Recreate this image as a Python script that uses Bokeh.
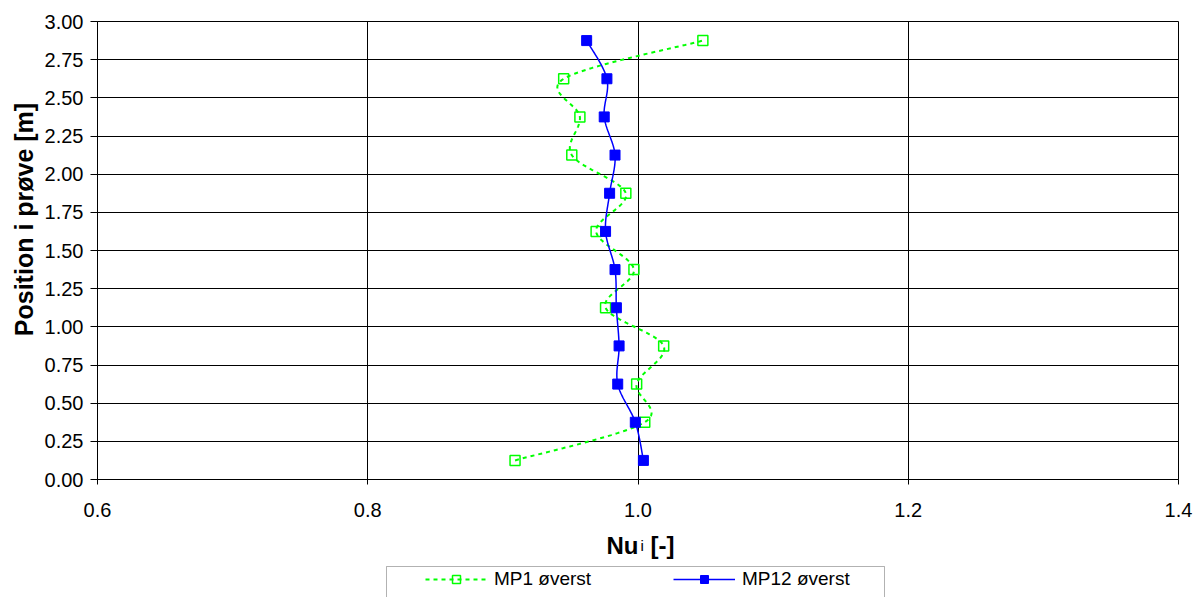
import numpy as np
from bokeh.plotting import figure
from bokeh.models import (FixedTicker, NumeralTickFormatter, Legend, LegendItem,
                          BoxAnnotation, Label, Range1d)
from bokeh.embed import file_html
from bokeh.resources import INLINE

# Measured positions along the specimen [m]
positions = [0.125, 0.375, 0.625, 0.875, 1.125, 1.375,
             1.625, 1.875, 2.125, 2.375, 2.625, 2.875]

# Local Nusselt ratio, two measuring points
mp1_top = [0.909, 1.005, 0.999, 1.019, 0.976, 0.997,
           0.969, 0.991, 0.951, 0.957, 0.945, 1.048]
mp12_top = [1.004, 0.998, 0.985, 0.986, 0.984, 0.983,
            0.976, 0.979, 0.983, 0.975, 0.977, 0.962]

series_names = ["MP1 øverst", "MP12 øverst"]
x_ticks = [0.6, 0.8, 1.0, 1.2, 1.4]
y_ticks = [0.0, 0.25, 0.5, 0.75, 1.0, 1.25, 1.5, 1.75, 2.0, 2.25, 2.5, 2.75, 3.0]

FONT = "Liberation Sans"

# canvas geometry (pixels)
W, H = 1194, 597
LEFT, RIGHT, TOP, BOTTOM = 97, 1178, 21, 479   # plot-area edges
X0, X1, Y0, Y1 = 0.6, 1.4, 0.0, 3.0

# The frame covers the whole canvas; the plot area is the [X0,X1]x[Y0,Y1]
# window inside it, so tick labels, titles and the legend are never clipped.
x_px = (RIGHT - LEFT) / (X1 - X0)
y_px = (BOTTOM - TOP) / (Y1 - Y0)
x_range = Range1d(X0 - LEFT / x_px, X1 + (W - RIGHT) / x_px)
y_range = Range1d(Y0 - (H - BOTTOM) / y_px, Y1 + TOP / y_px)


def smooth_curve(xs, ys, n=24):
    """Cubic Bezier smoothing through every point (Catmull-Rom style)."""
    pts = np.column_stack([xs, ys]).astype(float)
    pad = np.vstack([pts[:1], pts, pts[-1:]])
    t = np.linspace(0.0, 1.0, n)[:, None]
    out = []
    for i in range(len(pts) - 1):
        p0, p1, p2, p3 = pad[i], pad[i + 1], pad[i + 2], pad[i + 3]
        c1 = p1 + (p2 - p0) / 6.0
        c2 = p2 - (p3 - p1) / 6.0
        seg = ((1 - t) ** 3) * p1 + 3 * ((1 - t) ** 2) * t * c1 \
            + 3 * (1 - t) * (t ** 2) * c2 + (t ** 3) * p2
        out.append(seg if i == 0 else seg[1:])
    curve = np.vstack(out)
    return curve[:, 0], curve[:, 1]


p = figure(width=W, height=H, x_range=x_range, y_range=y_range,
           output_backend="svg", toolbar_location=None,
           min_border_left=0, min_border_right=0,
           min_border_top=0, min_border_bottom=0)
p.background_fill_color = "white"
p.border_fill_color = "white"
p.outline_line_color = None

# grid, limited to the plot area
for g in (p.xgrid, p.ygrid):
    g.grid_line_color = "black"
    g.grid_line_width = 1
p.xgrid.cross_bounds = (Y0, Y1)
p.ygrid.cross_bounds = (X0, X1)

# axes, pinned to the plot-area edges
p.xaxis.ticker = FixedTicker(ticks=x_ticks)
p.xaxis.formatter = NumeralTickFormatter(format="0.0")
p.xaxis.fixed_location = Y0
p.xaxis.bounds = (X0, X1)
p.yaxis.ticker = FixedTicker(ticks=y_ticks)
p.yaxis.formatter = NumeralTickFormatter(format="0.00")
p.yaxis.fixed_location = X0
p.yaxis.bounds = (Y0, Y1)
for ax in (p.xaxis, p.yaxis):
    ax.axis_line_color = "black"
    ax.major_tick_line_color = "black"
    ax.major_tick_in = 0
    ax.minor_tick_line_color = None
    ax.major_label_text_font = FONT
    ax.major_label_text_font_size = "20px"
    ax.major_label_text_color = "black"
p.yaxis.major_tick_out = 7
p.yaxis.major_label_standoff = 7
p.xaxis.major_tick_out = 5
p.xaxis.major_label_standoff = 18

# axis titles
p.add_layout(Label(x=23, y=H - 219, x_units="screen", y_units="screen",
                   text="Position i prøve [m]", angle=np.pi / 2,
                   text_font=FONT, text_font_size="25px", text_font_style="bold",
                   text_color="black", text_align="center",
                   text_baseline="middle"))
title_parts = [("Nu", 606, "24px", "bold"),
               ("i", 640, "15px", "normal"),
               ("[-]", 650, "24px", "bold")]
for txt, sx, fs, st in title_parts:
    p.add_layout(Label(x=sx, y=H - 545, x_units="screen", y_units="screen",
                       text=txt, text_font=FONT, text_font_size=fs,
                       text_font_style=st, text_color="black",
                       text_baseline="alphabetic", text_align="left"))

# MP1: dotted green smoothed line, open squares
gx, gy = smooth_curve(mp1_top, positions)
g_line = p.line(gx, gy, line_color="#00FF00", line_width=2, line_dash="4 4")
g_pts = p.scatter(mp1_top, positions, marker="square", size=10,
                  fill_color=None, line_color="#00FF00", line_width=1.5)

# MP12: solid blue smoothed line, filled squares
bx, by = smooth_curve(mp12_top, positions)
b_line = p.line(bx, by, line_color="#0000FF", line_width=1.5)
b_pts = p.scatter(mp12_top, positions, marker="square", size=10,
                  fill_color="#0000FF", line_color="#0000FF")

# legend frame
p.add_layout(BoxAnnotation(left=386, right=884, top=H - 566, bottom=-10,
                           left_units="screen", right_units="screen",
                           top_units="screen", bottom_units="screen",
                           fill_color="white", fill_alpha=1.0,
                           line_color="black", line_width=1))

legend = Legend(items=[LegendItem(label=series_names[0], renderers=[g_line, g_pts]),
                       LegendItem(label=series_names[1], renderers=[b_line, b_pts])],
                location=(425, H - 590), orientation="horizontal",
                glyph_width=62, glyph_height=20, label_height=20,
                label_width=160, label_standoff=7, spacing=19,
                padding=0, margin=0, border_line_color=None,
                background_fill_alpha=0,
                label_text_font=FONT, label_text_font_size="19px",
                label_text_color="black")
p.add_layout(legend)

open("out.html", "w").write(file_html(p, INLINE))
